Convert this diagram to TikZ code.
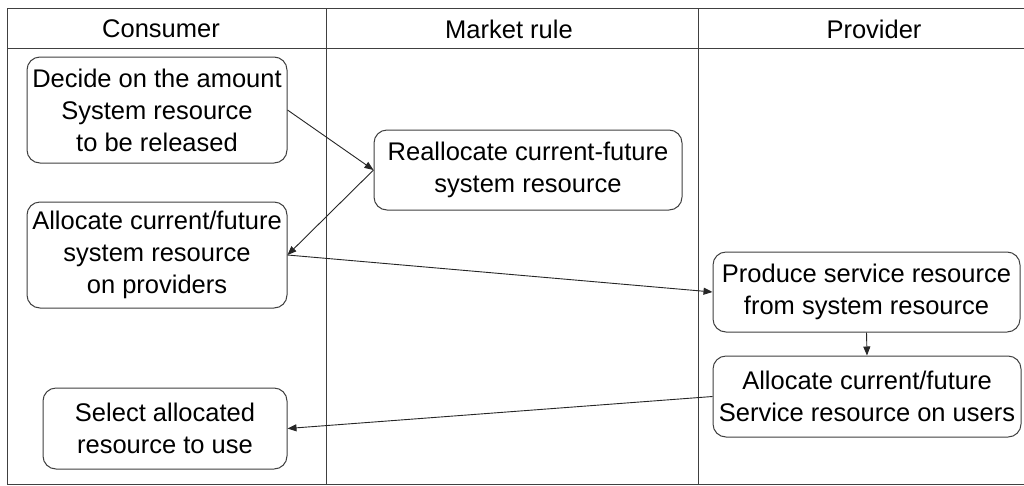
\documentclass[tikz,border=0pt]{standalone}
\usepackage{fontspec}
\setmainfont{Liberation Sans}
\usetikzlibrary{arrows.meta}
\begin{document}
\begin{tikzpicture}[x=1pt,y=-1pt,
  lane/.style={draw=black!75, line width=1pt},
  task/.style={draw=black!75, line width=1pt, rounded corners=13pt, align=center,
    inner sep=0pt, font=\fontsize{25.5}{32}\selectfont},
  head/.style={font=\fontsize{25.5}{30}\selectfont, inner sep=0pt},
  flow/.style={draw=black!85, line width=0.9pt, -{Triangle[length=9pt,width=7pt]}}]
\useasboundingbox (0,0) rectangle (1024,485);
\fill[white] (0,0) rectangle (1024,485);
% swimlane frame
\draw[lane] (1024,8) -- (7,8) -- (7,484) -- (1024,484);
\draw[lane] (7,48) -- (1024,48);
\draw[lane] (326,8) -- (326,484);
\draw[lane] (698,8) -- (698,484);
% lane titles
\node[head] (hc) at (161,29) {Consumer};
\node[head] (hm) at (509,29) {Market rule};
\node[head] (hp) at (874,29) {Provider};
% tasks
\node[task, minimum width=260pt, minimum height=106pt] (decide) at (157,110)
  {Decide on the amount\\System resource\\to be released};
\node[task, minimum width=260pt, minimum height=106pt] (alloc) at (157,255)
  {Allocate current/future\\system resource\\on providers};
\node[task, minimum width=308pt, minimum height=80pt] (realloc) at (528,170)
  {Reallocate current-future\\system resource};
\node[task, minimum width=307pt, minimum height=80pt] (produce) at (866.5,292)
  {Produce service resource\\from system resource};
\node[task, minimum width=308pt, minimum height=81pt] (users) at (867,396.5)
  {Allocate current/future\\Service resource on users};
\node[task, minimum width=244pt, minimum height=81pt] (select) at (165,428.5)
  {Select allocated\\resource to use};
% flows
\draw[flow] (decide.east) -- (realloc.west);
\draw[flow] (realloc.west) -- (alloc.east);
\draw[flow] (alloc.east) -- (produce.west);
\draw[flow] (produce.south) -- (users.north);
\draw[flow] (users.west) -- (select.east);
\end{tikzpicture}
\end{document}
